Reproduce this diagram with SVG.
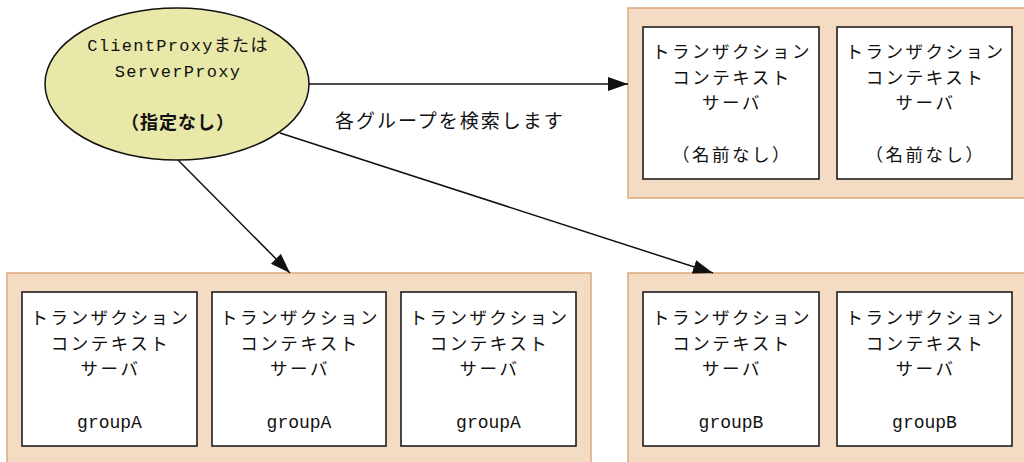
<svg xmlns="http://www.w3.org/2000/svg" width="1024" height="462" viewBox="0 0 1024 462">
<style>
.grp{fill:#F4DBC3;stroke:#DCA97E;stroke-width:1.5}
.box{fill:#FFFFFF;stroke:#111;stroke-width:1.5}
.jp{font-family:"Noto Sans CJK JP",sans-serif;font-size:17.5px;letter-spacing:2.5px;fill:#111;text-anchor:middle}
.mono{font-family:"Liberation Mono","Noto Sans CJK JP",monospace;font-size:18px;fill:#111;text-anchor:middle}
.ell{font-family:"Liberation Mono","Noto Sans CJK JP",monospace;font-size:17px;letter-spacing:1.3px;fill:#111;text-anchor:middle}
.conn{stroke:#111;stroke-width:1.5;fill:none}
</style>
<defs>
<marker id="ah" markerUnits="userSpaceOnUse" markerWidth="22" markerHeight="16" refX="20" refY="7" orient="auto">
<path d="M0,0 L20,7 L0,14 Z" fill="#111"/>
</marker>
</defs>
<g id="client">
<ellipse cx="177" cy="84" rx="132" ry="76" fill="#E8E8A8" stroke="#111" stroke-width="1.5"/>
<text class="ell" x="178" y="51">ClientProxyまたは</text>
<text class="ell" x="178" y="77">ServerProxy</text>
<text class="jp" x="178" y="129" style="font-size:18px;letter-spacing:1px;font-weight:bold">（指定なし）</text>
</g>
<g id="group-unnamed">
<rect class="grp" x="628" y="8" width="400" height="190"/>
<g id="tcs-n1">
<rect class="box" x="643" y="27" width="176" height="152"/>
<text class="jp" x="732" y="58">トランザクション</text>
<text class="jp" x="732" y="84">コンテキスト</text>
<text class="jp" x="732" y="109">サーバ</text>
<text class="jp" x="732" y="161">（名前なし）</text>
</g>
<g id="tcs-n2">
<rect class="box" x="837" y="27" width="175" height="152"/>
<text class="jp" x="925.5" y="58">トランザクション</text>
<text class="jp" x="925.5" y="84">コンテキスト</text>
<text class="jp" x="925.5" y="109">サーバ</text>
<text class="jp" x="925.5" y="161">（名前なし）</text>
</g>
</g>
<g id="group-a">
<rect class="grp" x="7" y="273" width="584" height="195"/>
<g id="tcs-a1">
<rect class="box" x="22" y="292" width="175" height="154"/>
<text class="jp" x="110.5" y="324">トランザクション</text>
<text class="jp" x="110.5" y="350">コンテキスト</text>
<text class="jp" x="110.5" y="375">サーバ</text>
<text class="mono" x="109.5" y="428">groupA</text>
</g>
<g id="tcs-a2">
<rect class="box" x="212" y="292" width="174" height="154"/>
<text class="jp" x="300" y="324">トランザクション</text>
<text class="jp" x="300" y="350">コンテキスト</text>
<text class="jp" x="300" y="375">サーバ</text>
<text class="mono" x="299" y="428">groupA</text>
</g>
<g id="tcs-a3">
<rect class="box" x="401" y="292" width="175" height="154"/>
<text class="jp" x="489.5" y="324">トランザクション</text>
<text class="jp" x="489.5" y="350">コンテキスト</text>
<text class="jp" x="489.5" y="375">サーバ</text>
<text class="mono" x="488.5" y="428">groupA</text>
</g>
</g>
<g id="group-b">
<rect class="grp" x="628" y="273" width="400" height="195"/>
<g id="tcs-b1">
<rect class="box" x="643" y="292" width="176" height="154"/>
<text class="jp" x="732" y="324">トランザクション</text>
<text class="jp" x="732" y="350">コンテキスト</text>
<text class="jp" x="732" y="375">サーバ</text>
<text class="mono" x="731" y="428">groupB</text>
</g>
<g id="tcs-b2">
<rect class="box" x="837" y="292" width="175" height="154"/>
<text class="jp" x="925.5" y="324">トランザクション</text>
<text class="jp" x="925.5" y="350">コンテキスト</text>
<text class="jp" x="925.5" y="375">サーバ</text>
<text class="mono" x="924.5" y="428">groupB</text>
</g>
</g>
<g id="connectors">
<line class="conn" x1="309" y1="84" x2="628" y2="84" marker-end="url(#ah)"/>
<line class="conn" x1="178" y1="160" x2="290" y2="273" marker-end="url(#ah)"/>
<line class="conn" x1="280" y1="133" x2="713" y2="273" marker-end="url(#ah)"/>
<text class="jp" x="335" y="128" style="text-anchor:start;font-size:19px;letter-spacing:2px">各グループを検索します</text>
</g>
</svg>
